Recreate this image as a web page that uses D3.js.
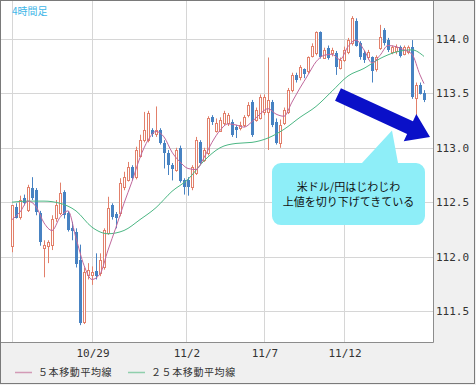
<!DOCTYPE html>
<html>
<head>
<meta charset="utf-8">
<script src="https://cdnjs.cloudflare.com/ajax/libs/d3/7.8.5/d3.min.js"></script>
<style>
  body { margin: 0; background: #fff; }
  svg { display: block; }
</style>
</head>
<body>
<svg></svg>
<script>
// USD/JPY 4-hour bars, one entry per bar (index = bar number)
var opens = [
  112.09, 112.46, 112.36, 112.54, 112.43, 112.63, 112.61, 112.40, 112.08, 112.09,
  112.11, 112.35, 112.40, 112.59, 112.40, 112.26, 112.23, 111.97, 111.40, 111.83,
  111.83, 111.87, 111.85, 111.90, 112.22, 112.47, 112.39, 112.40, 112.64, 112.70,
  112.82, 112.73, 112.92, 113.07, 113.07, 113.16, 113.12, 113.16, 113.04, 112.95,
  112.84, 112.80, 113.00, 112.70, 112.70, 112.64, 112.77, 113.05, 112.89, 112.95,
  113.28, 113.16, 113.16, 113.23, 113.23, 113.24, 113.19, 113.18, 113.21, 113.30,
  113.42, 113.26, 113.28, 113.33, 113.33, 113.42, 113.24, 113.04, 113.23, 113.33,
  113.53, 113.67, 113.65, 113.72, 113.70, 113.85, 113.87, 114.06, 113.83, 113.92,
  113.87, 113.87, 113.74, 113.81, 113.88, 113.96, 114.17, 113.96, 113.87, 113.83,
  113.83, 113.72, 113.92, 114.08, 113.99, 113.88, 113.89, 113.93, 113.87, 113.88,
  113.93, 113.46, 113.58, 113.50
];
var highs = [
  112.47, 112.49, 112.56, 112.57, 112.66, 112.73, 112.63, 112.42, 112.15, 112.15,
  112.38, 112.52, 112.68, 112.61, 112.42, 112.32, 112.26, 112.11, 111.90, 111.94,
  111.91, 112.03, 112.03, 112.26, 112.55, 112.49, 112.41, 112.72, 112.78, 112.87,
  112.84, 113.01, 113.12, 113.33, 113.34, 113.18, 113.38, 113.18, 113.07, 112.98,
  112.86, 113.00, 113.02, 112.72, 112.73, 112.84, 113.10, 113.07, 113.00, 113.29,
  113.30, 113.27, 113.28, 113.34, 113.32, 113.26, 113.21, 113.24, 113.30, 113.42,
  113.44, 113.37, 113.49, 113.49, 113.83, 113.44, 113.27, 113.26, 113.37, 113.55,
  113.69, 113.69, 113.76, 113.73, 113.84, 113.96, 114.07, 114.07, 113.92, 113.94,
  113.92, 113.89, 113.83, 113.93, 114.01, 114.21, 114.19, 113.98, 113.89, 113.90,
  113.84, 113.85, 114.13, 114.10, 114.01, 113.94, 113.95, 113.94, 113.94, 113.94,
  113.99, 113.60, 113.60, 113.53
];
var lows = [
  112.04, 112.35, 112.34, 112.47, 112.41, 112.52, 112.38, 112.10, 111.81, 111.94,
  112.06, 112.32, 112.38, 112.35, 112.23, 112.15, 111.90, 111.37, 111.38, 111.79,
  111.74, 111.79, 111.82, 111.88, 112.20, 112.34, 112.26, 112.37, 112.61, 112.69,
  112.70, 112.71, 112.91, 113.05, 113.05, 113.10, 113.10, 113.03, 112.81, 112.75,
  112.70, 112.78, 112.68, 112.57, 112.56, 112.61, 112.75, 112.84, 112.87, 112.93,
  113.21, 113.14, 113.15, 113.21, 113.20, 113.10, 113.09, 113.16, 113.19, 113.28,
  113.10, 113.24, 113.26, 113.30, 112.98, 113.19, 113.03, 113.00, 113.21, 113.31,
  113.51, 113.60, 113.62, 113.64, 113.68, 113.83, 113.85, 113.82, 113.82, 113.81,
  113.84, 113.67, 113.72, 113.79, 113.86, 113.94, 113.93, 113.81, 113.78, 113.81,
  113.60, 113.70, 113.90, 113.94, 113.88, 113.86, 113.86, 113.83, 113.85, 113.86,
  113.45, 113.30, 113.49, 113.42
];
var closes = [
  112.47, 112.36, 112.52, 112.49, 112.64, 112.54, 112.41, 112.13, 112.11, 112.13,
  112.35, 112.47, 112.58, 112.38, 112.24, 112.23, 111.94, 111.39, 111.86, 111.88,
  111.86, 111.82, 111.97, 112.24, 112.45, 112.36, 112.35, 112.68, 112.73, 112.82,
  112.72, 112.98, 113.07, 113.16, 113.32, 113.12, 113.16, 113.04, 112.95, 112.84,
  112.80, 112.98, 112.70, 112.64, 112.64, 112.82, 113.07, 112.86, 112.98, 113.27,
  113.23, 113.23, 113.26, 113.32, 113.30, 113.12, 113.16, 113.21, 113.28, 113.39,
  113.12, 113.35, 113.47, 113.47, 113.44, 113.21, 113.05, 113.21, 113.35, 113.53,
  113.67, 113.62, 113.74, 113.67, 113.83, 113.94, 114.06, 113.83, 113.90, 113.83,
  113.90, 113.74, 113.81, 113.90, 113.99, 114.19, 113.94, 113.83, 113.81, 113.88,
  113.70, 113.83, 114.02, 113.96, 113.90, 113.93, 113.93, 113.85, 113.93, 113.93,
  113.47, 113.58, 113.50, 113.44
];

// moving averages (bar index -> value)
var ma5Idx = [0, 2, 4, 6, 8, 10, 12, 14, 16, 18, 20, 22, 24, 26, 28, 30, 32, 34, 36, 38,
  40, 42, 44, 46, 48, 50, 52, 54, 56, 58, 60, 62, 64, 66, 68, 70, 72, 74, 76, 78,
  80, 82, 84, 86, 88, 90, 92, 94, 96, 98, 100, 102, 103];
var ma5 = [112.34, 112.41, 112.51, 112.46, 112.31, 112.24, 112.36, 112.42, 112.17, 111.92,
  111.79, 111.84, 112.06, 112.27, 112.49, 112.69, 112.91, 113.07, 113.15, 113.10,
  112.96, 112.87, 112.81, 112.80, 112.91, 113.05, 113.16, 113.22, 113.21, 113.19,
  113.24, 113.31, 113.36, 113.31, 113.29, 113.42, 113.55, 113.67, 113.79, 113.85,
  113.86, 113.81, 113.93, 113.99, 113.90, 113.78, 113.85, 113.94, 113.93, 113.90,
  113.86, 113.67, 113.59];
var ma25Idx = [0, 4, 8, 12, 16, 20, 24, 28, 32, 36, 40, 44, 48, 52, 56, 60, 64, 68, 72, 76,
  80, 84, 88, 92, 96, 100, 103];
var ma25 = [112.50, 112.51, 112.51, 112.49, 112.42, 112.27, 112.21, 112.24, 112.34, 112.45,
  112.60, 112.71, 112.88, 113.00, 113.04, 113.05, 113.09, 113.17, 113.28, 113.38,
  113.52, 113.66, 113.73, 113.82, 113.88, 113.90, 113.84];

var yTicks = [111.5, 112.0, 112.5, 113.0, 113.5, 114.0];
var xTickIdx = [0, 20, 43.5, 63, 83];
var xTickLabels = ["", "10/29", "11/2", "11/7", "11/12"];

var legendNames = ["５本移動平均線", "２５本移動平均線"];
var title = "4時間足";
var noteLines = ["米ドル/円はじわじわ", "上値を切り下げてきている"];

var width = 476, height = 385;
var plotL = 1, plotT = 1, plotR = 433, plotB = 342;
var upColor = "#e2806b", downColor = "#4782c2";
var ma5Color = "#c0689c", ma25Color = "#4cb784";
var monoFont = '"DejaVu Sans Mono", "Liberation Mono", monospace';
var jpFont = '"Noto Sans CJK JP", "Noto Sans", sans-serif';

var svg = d3.select('svg')
  .attr('width', width)
  .attr('height', height);

svg.append('rect')
  .attr('width', width).attr('height', height)
  .attr('fill', '#f0f0f0');

svg.append('rect')
  .attr('x', plotL).attr('y', plotT)
  .attr('width', plotR - plotL).attr('height', plotB - plotT)
  .attr('fill', '#fff');

svg.append('clipPath').attr('id', 'plotclip')
  .append('rect')
  .attr('x', plotL).attr('y', plotT)
  .attr('width', plotR - plotL).attr('height', plotB - plotT);

var xScale = d3.scaleLinear().domain([0, 103]).range([12, 424]);
var yScale = d3.scaleLinear().domain([111.5, 114]).range([311, 39]);
var px = v => Math.round(v) + 0.5;

// grid
svg.append('g').selectAll('line')
  .data(yTicks).enter().append('line')
  .attr('x1', plotL).attr('x2', plotR)
  .attr('y1', d => px(yScale(d))).attr('y2', d => px(yScale(d)))
  .attr('stroke', '#d6d6d6');

svg.append('g').selectAll('line')
  .data(xTickIdx).enter().append('line')
  .attr('x1', d => px(xScale(d))).attr('x2', d => px(xScale(d)))
  .attr('y1', plotT).attr('y2', plotB)
  .attr('stroke', '#d6d6d6');

// candles
var bars = d3.range(opens.length).map(i => ({
  i: i, o: opens[i], h: highs[i], l: lows[i], c: closes[i], up: closes[i] >= opens[i]
}));

var plot = svg.append('g').attr('clip-path', 'url(#plotclip)');

var candle = plot.selectAll('g.bar')
  .data(bars).enter().append('g').attr('class', 'bar');

candle.append('line')
  .attr('x1', d => px(xScale(d.i))).attr('x2', d => px(xScale(d.i)))
  .attr('y1', d => yScale(d.h)).attr('y2', d => yScale(d.l))
  .attr('stroke', d => d.up ? upColor : downColor);

candle.filter(d => d.up).append('rect')
  .attr('x', d => Math.round(xScale(d.i)) - 0.5)
  .attr('width', 2)
  .attr('y', d => Math.round(yScale(d.c)) + 0.5)
  .attr('height', d => Math.max(1, Math.round(yScale(d.o) - yScale(d.c))))
  .attr('fill', '#fff')
  .attr('stroke', upColor);

candle.filter(d => !d.up).append('rect')
  .attr('x', d => Math.round(xScale(d.i)) - 1)
  .attr('width', 3)
  .attr('y', d => Math.round(yScale(d.o)))
  .attr('height', d => Math.max(1, Math.round(yScale(d.c) - yScale(d.o))))
  .attr('fill', downColor);

// moving averages
var maLine = d3.line()
  .x(d => xScale(d[0]))
  .y(d => yScale(d[1]))
  .curve(d3.curveMonotoneX);

plot.append('path')
  .attr('d', maLine(ma25Idx.map((k, j) => [k, ma25[j]])))
  .attr('fill', 'none').attr('stroke', ma25Color).attr('stroke-width', 1);

plot.append('path')
  .attr('d', maLine(ma5Idx.map((k, j) => [k, ma5[j]])))
  .attr('fill', 'none').attr('stroke', ma5Color).attr('stroke-width', 1);

// frame
svg.append('line')
  .attr('x1', px(plotR)).attr('x2', px(plotR))
  .attr('y1', plotT).attr('y2', px(plotB))
  .attr('stroke', '#8c8c8c');
svg.append('line')
  .attr('x1', plotL).attr('x2', px(plotR))
  .attr('y1', px(plotB)).attr('y2', px(plotB))
  .attr('stroke', '#8c8c8c');
svg.append('rect')
  .attr('x', 0.5).attr('y', 0.5)
  .attr('width', width - 2).attr('height', height - 2)
  .attr('fill', 'none').attr('stroke', '#7a7a7a');

// y labels (right side)
svg.append('g').selectAll('text')
  .data(yTicks).enter().append('text')
  .attr('x', plotR + 3)
  .attr('y', d => yScale(d))
  .attr('dy', '0.36em')
  .style('font-family', monoFont)
  .style('font-size', '11px')
  .attr('fill', '#333')
  .text(d => d.toFixed(1));

// x labels
svg.append('g').selectAll('text')
  .data(xTickIdx).enter().append('text')
  .attr('x', d => xScale(d) + 1)
  .attr('y', 357)
  .attr('text-anchor', 'middle')
  .style('font-family', monoFont)
  .style('font-size', '11px')
  .attr('fill', '#333')
  .text((d, k) => xTickLabels[k]);

// legend
var legendX = [15, 128];
var legendColors = ["#d39ab6", "#8fcfac"];
var lg = svg.append('g').selectAll('g')
  .data(legendNames).enter().append('g');
lg.append('line')
  .attr('x1', (d, k) => legendX[k]).attr('x2', (d, k) => legendX[k] + 17)
  .attr('y1', 372.5).attr('y2', 372.5)
  .attr('stroke', (d, k) => legendColors[k]).attr('stroke-width', 1.5);
lg.append('text')
  .attr('x', (d, k) => legendX[k] + 23)
  .attr('y', 376)
  .style('font-family', jpFont)
  .style('font-size', '10px')
  .style('letter-spacing', '0.6px')
  .attr('fill', '#333')
  .text(d => d);

// title
svg.append('text')
  .attr('x', 12).attr('y', 15)
  .style('font-family', jpFont)
  .style('font-size', '10px')
  .attr('fill', '#3db6e8')
  .text(title);

// callout box with pointer
var bx0 = xScale(65), bx1 = xScale(103.25);
var by0 = yScale(112.86), by1 = yScale(112.29);
var pL = xScale(87.5), pR = xScale(96.5);
var apex = [xScale(95), yScale(113.16)];
var r = 9;
var callout = d3.path();
callout.moveTo(bx0 + r, by0);
callout.lineTo(pL, by0);
callout.lineTo(apex[0], apex[1]);
callout.lineTo(pR, by0);
callout.lineTo(bx1 - r, by0);
callout.arcTo(bx1, by0, bx1, by0 + r, r);
callout.lineTo(bx1, by1 - r);
callout.arcTo(bx1, by1, bx1 - r, by1, r);
callout.lineTo(bx0 + r, by1);
callout.arcTo(bx0, by1, bx0, by1 - r, r);
callout.lineTo(bx0, by0 + r);
callout.arcTo(bx0, by0, bx0 + r, by0, r);
callout.closePath();
svg.append('path')
  .attr('d', callout.toString())
  .attr('fill', '#8eeef8');

svg.append('g').selectAll('text')
  .data(noteLines).enter().append('text')
  .attr('x', (bx0 + bx1) / 2)
  .attr('y', (d, k) => 191 + k * 15)
  .attr('text-anchor', 'middle')
  .style('font-family', jpFont)
  .style('font-size', '11px')
  .attr('fill', '#111')
  .text(d => d);

// down arrow
var a0 = [xScale(81.5), yScale(113.49)];
var a1 = [xScale(104.5), yScale(113.10)];
var dx = a1[0] - a0[0], dy = a1[1] - a0[1];
var len = Math.sqrt(dx * dx + dy * dy);
var ux = dx / len, uy = dy / len, nx = -uy, ny = ux;
var headLen = 22, shaft = 7, head = 15;
var base = [a1[0] - ux * headLen, a1[1] - uy * headLen];
var arrowPts = [
  [a0[0] + nx * shaft, a0[1] + ny * shaft],
  [base[0] + nx * shaft, base[1] + ny * shaft],
  [base[0] + nx * head, base[1] + ny * head],
  a1,
  [base[0] - nx * head, base[1] - ny * head],
  [base[0] - nx * shaft, base[1] - ny * shaft],
  [a0[0] - nx * shaft, a0[1] - ny * shaft]
];
svg.append('path')
  .attr('d', d3.line()(arrowPts) + 'Z')
  .attr('fill', '#0a10c8');
</script>
</body>
</html>
